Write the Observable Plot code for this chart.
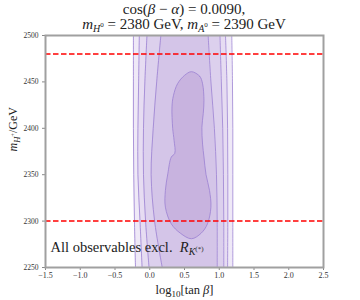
<!DOCTYPE html>
<html><head><meta charset="utf-8">
<script src="https://cdn.jsdelivr.net/npm/d3@7"></script>
<script src="https://cdn.jsdelivr.net/npm/@observablehq/plot@0.6"></script>
<style>
body{margin:0;background:#fff;width:360px;height:300px;overflow:hidden;font-family:"Liberation Serif",serif;color:#222;}
#title{height:32px;text-align:center;font-size:15px;line-height:15px;padding-left:8px;box-sizing:border-box;padding-top:2px;overflow:visible;}
#title div{height:15px;}
#title .s{font-size:10px;vertical-align:-3px;line-height:0;}
#title .p{font-size:7px;vertical-align:5px;line-height:0;}
</style></head><body>
<div id="title">
<div>cos(<i>β</i> − <i>α</i>) = 0.0090,</div>
<div><i>m</i><span class="s"><i>H</i><span class="p">0</span></span> = 2380 GeV, <i>m</i><span class="s"><i>A</i><span class="p">0</span></span> = 2390 GeV</div>
</div>
<div id="chart"></div>
<script>
// y knots (GeV) at which the band edges are read
const yKnots = [2500, 2450, 2400, 2350, 2300, 2250];
// band edges, log10(tan beta), outer -> inner
const band1Left  = [-0.235, -0.235, -0.235, -0.23, -0.22, -0.205];
const band1Right = [1.18, 1.19, 1.195, 1.195, 1.195, 1.195];
const band2Left  = [-0.15, -0.16, -0.17, -0.17, -0.14, -0.11];
const band2Right = [1.09, 1.11, 1.12, 1.123, 1.123, 1.12];
const band3Left  = [-0.04, -0.07, -0.09, -0.09, -0.06, -0.01];
const band3Right = [1.01, 1.03, 1.05, 1.06, 1.065, 1.065];
const band4Left  = [0.16, 0.10, 0.05, 0.02, 0.07, 0.18];
const band4Right = [0.84, 0.88, 0.93, 0.96, 0.97, 0.97];
// innermost closed region (x, y) going round
const blobX = [0.60, 0.72, 0.76, 0.78, 0.77, 0.75, 0.76, 0.78, 0.81, 0.86, 0.88, 0.83, 0.74, 0.60, 0.44, 0.31, 0.225, 0.225, 0.26, 0.31, 0.36, 0.35, 0.33, 0.32, 0.34, 0.40, 0.50];
const blobY = [2461, 2456, 2448, 2430, 2416, 2401, 2383, 2369, 2350, 2333, 2315, 2297, 2287, 2281, 2287, 2297, 2315, 2333, 2351, 2369, 2373, 2387, 2400, 2423, 2435, 2448, 2457];
const xTicks = [-1.5, -1.0, -0.5, 0.0, 0.5, 1.0, 1.5, 2.0, 2.5];
const yTicks = [2250, 2300, 2350, 2400, 2450, 2500];
const refLines = [2480, 2300];

const bandFills = ["#efe9f7", "#e6dcf2", "#dcd0ed", "#d4c5e8"];
const blobFill = "#c8b3df";
const edgeColor = "#9b80d2";
const lefts = [band1Left, band2Left, band3Left, band4Left];
const rights = [band1Right, band2Right, band3Right, band4Right];
const bands = lefts.map((L, i) => yKnots.map((y, j) => ({y, x1: L[j], x2: rights[i][j]})));
const blob = blobX.map((x, i) => ({x, y: blobY[i]}));

const marks = [];
bands.forEach((b, i) => {
  marks.push(Plot.areaX(b, {y: "y", x1: "x1", x2: "x2", fill: bandFills[i], curve: "catmull-rom"}));
  marks.push(Plot.lineY(b, {x: "x1", y: "y", stroke: edgeColor, strokeWidth: 0.8, curve: "catmull-rom"}));
  marks.push(Plot.lineY(b, {x: "x2", y: "y", stroke: edgeColor, strokeWidth: 0.8, curve: "catmull-rom"}));
});
marks.push(Plot.line(blob, {x: "x", y: "y", fill: blobFill, stroke: edgeColor, strokeWidth: 0.8, curve: "catmull-rom-closed"}));
marks.push(Plot.ruleY(refLines, {stroke: "#ff0000", strokeWidth: 1.5, strokeDasharray: "5.5,2.5"}));
marks.push(Plot.axisX({ticks: xTicks, tickFormat: d3.format(".1f"), tickSize: 3, tickPadding: 2, fontSize: 8, label: null, stroke: "#888", fill: "#333"}));
marks.push(Plot.axisY({ticks: yTicks, tickFormat: d => String(d), tickSize: 3, tickPadding: 4, fontSize: 7.5, label: null, stroke: "#888", fill: "#333"}));
marks.push(Plot.text(["xlab"], {frameAnchor: "bottom", dy: 26, text: d => "log10[tan β]", fontSize: 12.5, className: "xlab", fill: "#222"}));
marks.push(Plot.text(["ylab"], {frameAnchor: "left", dx: -32, rotate: -90, text: d => "mH+/GeV", fontSize: 12, className: "ylab", fill: "#222"}));
marks.push(Plot.text(["note"], {frameAnchor: "bottom-left", dx: 5, dy: -16, textAnchor: "start", text: d => "All observables excl. RK(*)", fontSize: 14.5, className: "note", fill: "#222"}));
marks.push(Plot.frame({stroke: "#a0a0a0", strokeWidth: 2}));

const plot = Plot.plot({
  width: 360, height: 268,
  marginTop: 3, marginLeft: 45, marginRight: 37, marginBottom: 33,
  x: {domain: [-1.5, 2.5]},
  y: {domain: [2250, 2500]},
  style: {fontFamily: "'Liberation Serif', serif", background: "white", overflow: "visible"},
  marks
});
document.getElementById("chart").appendChild(plot);
const svg = d3.select(plot);
svg.select(".xlab text").html('log<tspan dy="3" font-size="9">10</tspan><tspan dy="-3">[tan </tspan><tspan font-style="italic">β</tspan>]');
svg.select(".ylab text").html('<tspan font-style="italic">m</tspan><tspan dy="3" font-size="8.5" font-style="italic">H</tspan><tspan dy="-5" font-size="6.5">+</tspan><tspan dy="2">/GeV</tspan>');
svg.select(".note text").html('All observables excl.  <tspan font-style="italic">R</tspan><tspan dy="3" font-size="10" font-style="italic">K</tspan><tspan dy="-4" font-size="7">(*)</tspan>');
</script>
</body></html>
